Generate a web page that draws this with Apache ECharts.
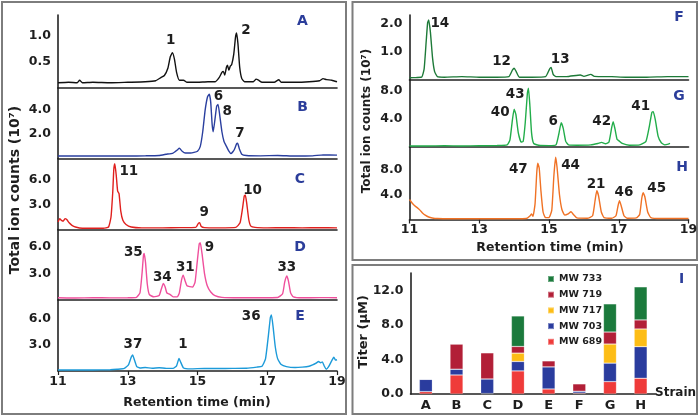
<!DOCTYPE html>
<html>
<head>
<meta charset="utf-8">
<script src="https://cdn.jsdelivr.net/npm/echarts@6/dist/echarts.min.js"></script>
<style>html,body{margin:0;padding:0;background:#fff}#c{width:700px;height:417px}</style>
</head>
<body>
<div id="c"></div>
<script>
// ---------- data ----------
const traceA = [[11,0.1],[11.3,0.11],[11.55,0.1],[11.62,0.15],[11.7,0.1],[12,0.11],[12.5,0.1],[13,0.11],[13.5,0.12],[13.8,0.14],[13.95,0.2],[14.05,0.24],[14.15,0.38],[14.22,0.6],[14.28,0.68],[14.34,0.55],[14.4,0.3],[14.48,0.15],[14.6,0.15],[14.7,0.11],[15,0.11],[15.3,0.12],[15.5,0.12],[15.62,0.2],[15.7,0.3],[15.74,0.32],[15.78,0.25],[15.83,0.4],[15.86,0.44],[15.9,0.34],[15.94,0.42],[15.98,0.45],[16.04,0.65],[16.09,0.98],[16.12,1.06],[16.16,0.85],[16.21,0.4],[16.27,0.18],[16.35,0.12],[16.6,0.12],[16.68,0.17],[16.75,0.15],[16.85,0.11],[17.2,0.11],[17.33,0.16],[17.4,0.11],[17.8,0.11],[18.2,0.12],[18.5,0.14],[18.6,0.18],[18.7,0.16],[18.85,0.15],[19,0.12]];
const traceB = [[11,0.2],[11.5,0.22],[12,0.2],[12.5,0.21],[13,0.2],[13.5,0.22],[13.9,0.25],[14.1,0.35],[14.3,0.45],[14.42,0.7],[14.48,0.85],[14.56,0.6],[14.65,0.45],[14.8,0.45],[14.9,0.5],[15.0,0.6],[15.08,1.0],[15.15,2.2],[15.22,4.0],[15.29,5.1],[15.34,5.28],[15.38,4.6],[15.42,2.8],[15.45,2.2],[15.5,3.2],[15.55,4.3],[15.59,4.45],[15.64,3.5],[15.7,2.2],[15.76,1.4],[15.83,1.0],[15.9,0.6],[15.96,0.4],[16.05,0.7],[16.12,1.2],[16.15,1.25],[16.2,0.8],[16.27,0.35],[16.4,0.25],[16.8,0.22],[17.3,0.25],[17.8,0.2],[18.3,0.22],[18.6,0.3],[19,0.28]];
const traceC = [[11,0.9],[11.05,1.3],[11.1,1.1],[11.15,1.0],[11.2,1.3],[11.25,1.2],[11.32,0.8],[11.4,0.5],[11.5,0.3],[11.7,0.15],[12,0.15],[12.3,0.15],[12.45,0.3],[12.52,1.5],[12.57,4.5],[12.6,7.2],[12.63,7.9],[12.67,6.5],[12.71,4.6],[12.75,4.3],[12.8,2.2],[12.86,1.1],[12.95,0.6],[13.1,0.3],[13.4,0.2],[14,0.2],[14.5,0.22],[14.95,0.25],[15.02,0.7],[15.06,0.82],[15.11,0.35],[15.2,0.22],[15.6,0.2],[16.1,0.25],[16.22,0.8],[16.29,2.5],[16.34,4.0],[16.37,4.14],[16.41,3.2],[16.47,1.2],[16.53,0.4],[16.65,0.25],[17,0.2],[17.5,0.22],[18,0.2],[18.5,0.22],[19,0.2]];
const traceD = [[11,0.25],[11.5,0.22],[12,0.25],[12.5,0.24],[13,0.25],[13.25,0.3],[13.35,0.8],[13.41,3.0],[13.45,5.0],[13.47,5.24],[13.51,4.2],[13.56,1.8],[13.62,0.6],[13.75,0.35],[13.9,0.5],[13.96,1.2],[14.02,1.85],[14.07,1.5],[14.12,0.8],[14.17,0.7],[14.22,0.6],[14.3,0.35],[14.42,0.35],[14.48,0.8],[14.54,2.2],[14.59,2.8],[14.64,2.2],[14.7,1.6],[14.78,1.5],[14.86,1.45],[14.93,2.0],[14.99,4.2],[15.05,6.3],[15.08,6.44],[15.13,5.2],[15.2,3.0],[15.28,1.6],[15.38,0.9],[15.5,0.5],[15.7,0.3],[16.2,0.25],[16.8,0.25],[17.3,0.28],[17.44,0.7],[17.5,2.0],[17.56,2.7],[17.61,2.1],[17.67,0.8],[17.75,0.35],[18,0.25],[18.5,0.27],[19,0.25]];
const traceE = [[11,0.12],[11.5,0.12],[12,0.12],[12.5,0.14],[12.7,0.2],[12.9,0.3],[13.02,0.7],[13.1,1.6],[13.14,1.85],[13.19,1.3],[13.26,0.5],[13.35,0.35],[13.5,0.4],[13.7,0.32],[13.9,0.38],[14.1,0.3],[14.3,0.3],[14.4,0.6],[14.47,1.45],[14.52,1.0],[14.6,0.35],[14.8,0.25],[15.2,0.3],[15.6,0.28],[16,0.3],[16.4,0.32],[16.7,0.45],[16.85,0.55],[16.95,1.4],[17.03,4.0],[17.09,6.2],[17.12,6.46],[17.17,5.0],[17.23,2.8],[17.3,1.4],[17.4,0.75],[17.55,0.5],[17.8,0.4],[18.0,0.45],[18.2,0.55],[18.3,0.7],[18.4,0.9],[18.47,1.1],[18.53,0.95],[18.58,1.05],[18.63,0.6],[18.69,0.2],[18.76,0.5],[18.85,1.2],[18.91,1.58],[18.96,1.25],[19,1.3]];
const traceF = [[11,0.08],[11.2,0.09],[11.35,0.1],[11.42,0.4],[11.48,1.4],[11.52,2.05],[11.55,2.14],[11.6,1.7],[11.66,0.8],[11.72,0.3],[11.8,0.12],[12,0.1],[12.5,0.12],[13,0.1],[13.5,0.1],[13.85,0.12],[13.95,0.35],[14.0,0.42],[14.06,0.3],[14.15,0.1],[14.5,0.1],[14.9,0.12],[15.02,0.4],[15.06,0.45],[15.12,0.2],[15.2,0.12],[15.5,0.12],[15.9,0.18],[16.0,0.13],[16.2,0.2],[16.3,0.13],[16.8,0.12],[17.2,0.1],[17.8,0.1],[18.4,0.12],[19,0.12]];
const traceG = [[11,0.15],[11.5,0.15],[12,0.18],[12.5,0.15],[13,0.18],[13.5,0.2],[13.8,0.3],[13.88,1.0],[13.95,3.8],[14.0,5.33],[14.05,4.6],[14.12,2.0],[14.2,0.7],[14.26,0.8],[14.32,3.5],[14.38,7.6],[14.41,8.3],[14.45,6.0],[14.5,2.0],[14.56,0.5],[14.7,0.25],[15.0,0.2],[15.2,0.3],[15.28,1.8],[15.35,3.44],[15.41,2.6],[15.48,0.8],[15.56,0.3],[15.8,0.25],[16.2,0.3],[16.4,0.5],[16.51,0.65],[16.62,0.45],[16.72,0.7],[16.8,2.8],[16.84,3.58],[16.89,2.6],[16.95,1.1],[17.0,0.9],[17.1,0.5],[17.3,0.25],[17.6,0.3],[17.78,0.8],[17.88,3.0],[17.95,4.9],[17.99,5.0],[18.05,3.8],[18.13,1.5],[18.22,0.6],[18.32,0.3],[18.42,0.4],[18.47,0.5]];
const traceH = [[11,3.2],[11.08,2.6],[11.15,2.2],[11.22,1.9],[11.3,1.5],[11.38,1.0],[11.45,0.7],[11.55,0.4],[11.65,0.25],[11.8,0.15],[12.2,0.12],[13,0.12],[13.5,0.12],[14,0.12],[14.35,0.15],[14.46,0.6],[14.5,0.9],[14.54,0.5],[14.6,2.5],[14.65,7.6],[14.68,9.0],[14.72,8.2],[14.77,4.5],[14.83,1.2],[14.9,0.3],[15.0,0.3],[15.08,1.5],[15.14,7.0],[15.19,9.95],[15.23,8.4],[15.3,4.0],[15.37,1.6],[15.45,0.7],[15.55,0.9],[15.63,1.25],[15.7,0.8],[15.8,0.25],[16.1,0.2],[16.25,0.6],[16.32,3.0],[16.37,4.6],[16.42,3.8],[16.5,1.2],[16.58,0.3],[16.8,0.2],[16.92,0.6],[16.98,2.2],[17.02,3.0],[17.07,2.2],[17.15,0.6],[17.25,0.2],[17.5,0.25],[17.6,0.8],[17.66,3.4],[17.7,4.3],[17.75,3.6],[17.83,1.2],[17.92,0.3],[18.2,0.15],[18.6,0.15],[19,0.15]];

// peak labels: [text, time, value]
const peaksA = [['1',14.23,0.91],['2',16.39,1.115]];
const peaksB = [['6',15.6,5.14],['8',15.85,3.85],['7',16.22,2.07]];
const peaksC = [['11',13.03,7.02],['9',15.19,2.02],['10',16.58,4.74]];
const peaksD = [['35',13.16,5.39],['34',13.99,2.55],['31',14.65,3.67],['9',15.34,5.92],['33',17.56,3.67]];
const peaksE = [['37',13.15,3.0],['1',14.58,3.0],['36',16.54,6.26]];
const peaksF = [['14',11.87,2.03],['12',13.64,0.65],['13',15.32,0.74]];
const peaksG = [['43',14.03,7.36],['40',13.6,4.85],['6',15.12,3.58],['42',16.51,3.58],['41',17.63,5.7]];
const peaksH = [['47',14.12,8.03],['44',15.62,8.72],['21',16.35,5.68],['46',17.15,4.29],['45',18.09,4.99]];

const xTicks = [11, 13, 15, 17, 19];
const strains = ['A','B','C','D','E','F','G','H'];
const mw689 = [0.27, 2.2, 0.05, 2.67, 0.58, 0.1, 1.43, 1.82];
const mw703 = [1.43, 0.67, 1.69, 1.09, 2.56, 0.22, 2.14, 3.65];
const mw717 = [0, 0, 0, 0.97, 0, 0, 2.21, 2.05];
const mw719 = [0, 2.91, 3.03, 0.77, 0.7, 0.86, 1.39, 1.05];
const mw733 = [0, 0, 0, 3.53, 0, 0, 3.26, 3.83];
const yTicksI = [0, 4, 8, 12];

// ---------- layout / style ----------
const FONT = 'DejaVu Sans';
const TXT = '#1e1e1e';
const BLUE = '#2b3d9a';
const panels = [
  {key:'A', data:traceA, peaks:peaksA, color:'#111111', grid:[58,15,279,73], max:1.404, step:0.5, ticks:[0.5,1.0], lab:false},
  {key:'B', data:traceB, peaks:peaksB, color:'#2a3f9f', grid:[58,88,279,70.5], max:5.8, step:2, ticks:[2,4], lab:false},
  {key:'C', data:traceC, peaks:peaksC, color:'#e0201e', grid:[58,158.5,279,71], max:8.52, step:3, ticks:[3,6], lab:false},
  {key:'D', data:traceD, peaks:peaksD, color:'#ef4f9c', grid:[58,229.5,279,70.5], max:7.92, step:3, ticks:[3,6], lab:false},
  {key:'E', data:traceE, peaks:peaksE, color:'#1c9ad9', grid:[58,300,279,71], max:8.19, step:3, ticks:[3,6], lab:true},
  {key:'F', data:traceF, peaks:peaksF, color:'#1d7a38', grid:[409.5,15,279,65], max:2.32, step:1, ticks:[1,2], lab:false},
  {key:'G', data:traceG, peaks:peaksG, color:'#22ad4a', grid:[409.5,80,279,67], max:9.47, step:4, ticks:[4,8], lab:false},
  {key:'H', data:traceH, peaks:peaksH, color:'#f07225', grid:[409.5,147,279,72.5], max:11.6, step:4, ticks:[4,8], lab:true}
];

const grids = [], xAxes = [], yAxes = [], series = [];
panels.forEach((p, i) => {
  grids.push({left:p.grid[0], top:p.grid[1], width:p.grid[2], height:p.grid[3], outerBoundsMode:'none', containLabel:false});
  xAxes.push({
    type:'value', gridIndex:i, min:11, max:19, interval:2,
    axisLine:{show:true, onZero:false, lineStyle:{color:'#222', width:1.6}},
    axisTick:{show:p.lab, length:4, inside:false, lineStyle:{color:'#222', width:1.2}},
    axisLabel:{show:p.lab, margin:4, color:TXT, fontFamily:FONT, fontWeight:'bold', fontSize:12.5,
      formatter:v => xTicks.indexOf(v) >= 0 ? String(v) : ''},
    splitLine:{show:false}
  });
  yAxes.push({
    type:'value', gridIndex:i, min:0, max:p.max, interval:p.step,
    axisLine:{show:true, lineStyle:{color:'#222', width:1.6}},
    axisTick:{show:false},
    axisLabel:{show:true, margin:7, color:TXT, fontFamily:FONT, fontWeight:'bold', fontSize:12.5,
      formatter:(v => { const ok = p.ticks.some(t => Math.abs(t - v) < 1e-6); return ok ? v.toFixed(1) : ''; })},
    splitLine:{show:false}
  });
  series.push({
    type:'line', xAxisIndex:i, yAxisIndex:i, data:p.data, showSymbol:false, symbol:'none',
    smooth:0.15, clip:true, lineStyle:{color:p.color, width:1.4}, silent:true,
    markPoint:{
      symbol:'circle', symbolSize:1, silent:true, itemStyle:{color:'rgba(0,0,0,0)'},
      label:{show:true, position:'inside', formatter:'{b}', color:TXT, fontFamily:FONT, fontWeight:'bold', fontSize:13.5},
      data:p.peaks.map(k => ({name:k[0], coord:[k[1], k[2]]}))
    }
  });
});

// bar chart grid (index 8)
grids.push({left:410.5, top:273, width:245.5, height:121, outerBoundsMode:'none', containLabel:false});
xAxes.push({
  type:'category', gridIndex:8, data:strains,
  axisLine:{show:true, lineStyle:{color:'#222', width:1.6}},
  axisTick:{show:false},
  axisLabel:{margin:5, color:TXT, fontFamily:FONT, fontWeight:'bold', fontSize:13}
});
yAxes.push({
  type:'value', gridIndex:8, min:0, max:14, interval:4,
  axisLine:{show:true, lineStyle:{color:'#222', width:1.6}},
  axisTick:{show:false},
  axisLabel:{margin:7, color:TXT, fontFamily:FONT, fontWeight:'bold', fontSize:12.5,
    formatter:v => yTicksI.indexOf(v) >= 0 ? v.toFixed(1) : ''},
  splitLine:{show:false}
});
const barDefs = [
  ['MW 689', mw689, '#ef3b3a'],
  ['MW 703', mw703, '#2a3c9e'],
  ['MW 717', mw717, '#fdbd16'],
  ['MW 719', mw719, '#b21f37'],
  ['MW 733', mw733, '#1b7a3c']
];
barDefs.forEach(b => {
  series.push({
    type:'bar', name:b[0], data:b[1], stack:'titer', xAxisIndex:8, yAxisIndex:8,
    barWidth:13, itemStyle:{color:b[2], borderColor:'rgba(255,255,255,0.35)', borderWidth:0.6}, silent:true
  });
});

const letters = [
  ['A',302.5,21],['B',302.5,107],['C',300,179.5],['D',300,247.5],['E',300,316],
  ['F',679,17.5],['G',679,96],['H',682,167],['I',681.5,279]
];
const graphic = [
  {type:'rect', shape:{x:2,y:2,width:344,height:412}, style:{fill:'none', stroke:'#7d7d7d', lineWidth:2}},
  {type:'rect', shape:{x:352.5,y:2,width:344.5,height:258}, style:{fill:'none', stroke:'#7d7d7d', lineWidth:2}},
  {type:'rect', shape:{x:352.5,y:265,width:344.5,height:149}, style:{fill:'none', stroke:'#7d7d7d', lineWidth:2}},
  {type:'text', x:15, y:190, rotation:Math.PI/2, style:{text:'Total ion counts (10⁷)', fill:TXT, font:'bold 14px "DejaVu Sans"', textAlign:'center', textVerticalAlign:'middle'}},
  {type:'text', x:367, y:121, rotation:Math.PI/2, style:{text:'Total ion counts (10⁷)', fill:TXT, font:'bold 12px "DejaVu Sans"', textAlign:'center', textVerticalAlign:'middle'}},
  {type:'text', x:364, y:332, rotation:Math.PI/2, style:{text:'Titer (µM)', fill:TXT, font:'bold 13px "DejaVu Sans"', textAlign:'center', textVerticalAlign:'middle'}},
  {type:'text', x:197, y:403, style:{text:'Retention time (min)', fill:TXT, font:'bold 12.5px "DejaVu Sans"', textAlign:'center', textVerticalAlign:'middle'}},
  {type:'text', x:550, y:248, style:{text:'Retention time (min)', fill:TXT, font:'bold 12.5px "DejaVu Sans"', textAlign:'center', textVerticalAlign:'middle'}},
  {type:'text', x:655, y:393, style:{text:'Strain', fill:TXT, font:'bold 12px "DejaVu Sans"', textAlign:'left', textVerticalAlign:'middle'}}
];
letters.forEach(l => graphic.push({type:'text', x:l[1], y:l[2], style:{text:l[0], fill:BLUE, font:'bold 14px "DejaVu Sans"', textAlign:'center', textVerticalAlign:'middle'}}));

const chart = echarts.init(document.getElementById('c'), null, {renderer:'canvas'});
chart.setOption({
  animation:false,
  backgroundColor:'#ffffff',
  grid:grids, xAxis:xAxes, yAxis:yAxes, series:series,
  legend:{
    data:['MW 733','MW 719','MW 717','MW 703','MW 689'],
    orient:'vertical', left:542, top:269, itemWidth:6, itemHeight:6, itemGap:5.7,
    icon:'rect', selectedMode:false,
    textStyle:{color:TXT, fontFamily:FONT, fontWeight:'bold', fontSize:9.5, lineHeight:10}
  },
  graphic:graphic
});
</script>
</body>
</html>
